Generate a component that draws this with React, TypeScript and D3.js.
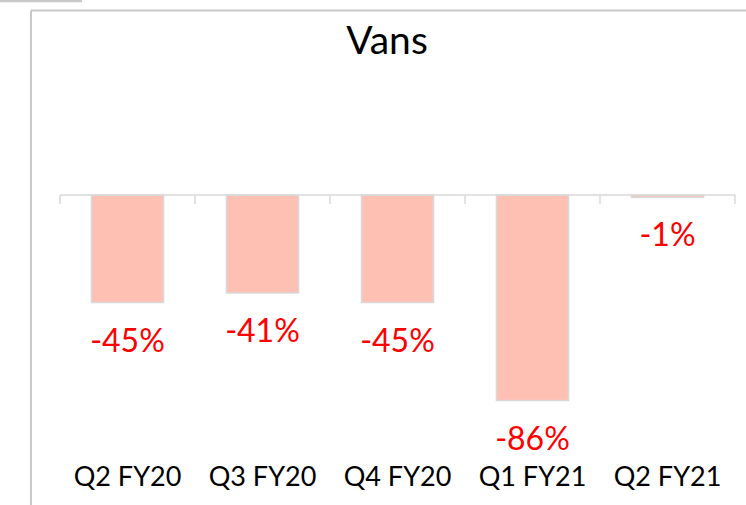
import React from "react";
import * as d3 from "d3";

const categories: string[] = ["Q2 FY20", "Q3 FY20", "Q4 FY20", "Q1 FY21", "Q2 FY21"];
const values: number[] = [-45, -41, -45, -86, -1];
const title = "Vans";

const W = 746;
const H = 505;
const FONT = "Lato, 'Open Sans', sans-serif";

export default function App() {
  const x = d3
    .scaleBand<string>()
    .domain(categories)
    .range([60, 735])
    .paddingInner(0.466)
    .paddingOuter(0.233);
  const y = d3.scaleLinear().domain([-100, 0]).range([434, 195]);
  const step = x.step();
  const bounds = d3.range(categories.length + 1).map((i) => 60 + i * step);

  return (
    <div style={{ position: "fixed", left: 0, top: 0, width: W, height: H, background: "#fff" }}>
      <svg width={W} height={H} style={{ display: "block" }}>
        <rect x={0} y={0} width={W} height={H} fill="#fff" />
        {/* stray top-left line */}
        <line x1={0} x2={82} y1={1} y2={1} stroke="#c8c8c8" strokeWidth={2.5} />
        {/* chart border */}
        <line x1={31} x2={W + 5} y1={10.5} y2={10.5} stroke="#c8c8c8" strokeWidth={2} />
        <line x1={31} x2={31} y1={10.5} y2={H + 5} stroke="#c8c8c8" strokeWidth={2} />

        <text x={387} y={54} textAnchor="middle" fontFamily={FONT} fontSize={39} fill="#000">
          {title}
        </text>

        {categories.map((c, i) => {
          const v = values[i];
          const y0 = y(0);
          const y1 = y(v);
          return (
            <rect
              key={c}
              x={x(c)}
              y={Math.min(y0, y1)}
              width={x.bandwidth()}
              height={Math.abs(y1 - y0)}
              fill="#ffc0b4"
              stroke="#d9d9d9"
              strokeWidth={1.5}
            />
          );
        })}

        {/* axis */}
        <line x1={bounds[0]} x2={bounds[bounds.length - 1]} y1={y(0)} y2={y(0)} stroke="#d9d9d9" strokeWidth={1.5} />
        {bounds.map((b, i) => (
          <line key={i} x1={b} x2={b} y1={y(0)} y2={y(0) + 9} stroke="#d9d9d9" strokeWidth={1.5} />
        ))}

        {categories.map((c, i) => (
          <text
            key={"l" + c}
            x={(x(c) as number) + x.bandwidth() / 2}
            y={y(values[i]) + 49}
            textAnchor="middle"
            fontFamily={FONT}
            fontSize={32}
            fill="#ff0000"
          >
            {values[i]}%
          </text>
        ))}

        {categories.map((c) => (
          <text
            key={"c" + c}
            x={(x(c) as number) + x.bandwidth() / 2}
            y={486}
            textAnchor="middle"
            fontFamily={FONT}
            fontSize={27}
            fill="#000"
          >
            {c}
          </text>
        ))}
      </svg>
    </div>
  );
}
